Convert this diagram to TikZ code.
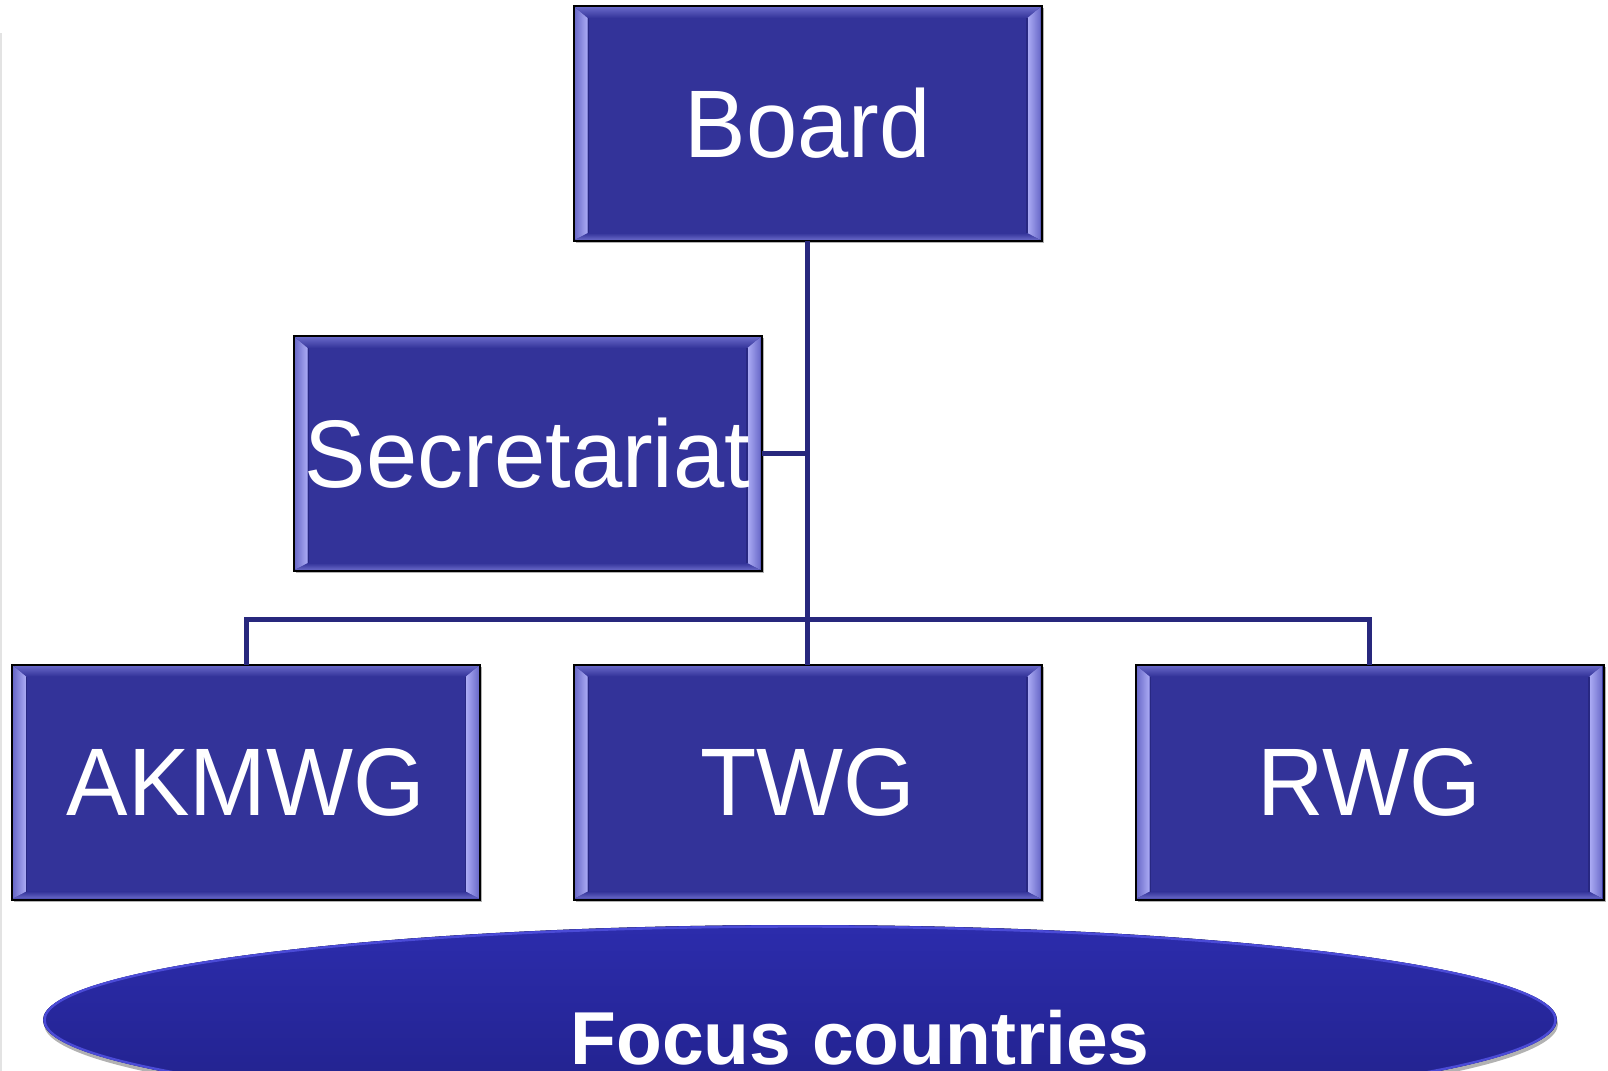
\documentclass[tikz,border=0pt]{standalone}
\usepackage{fontspec}
\setmainfont{Liberation Sans}
\newfontfamily\boxfont[FakeStretch=0.96]{Liberation Sans}
\usetikzlibrary{calc,shapes.geometric}
\definecolor{boxfill}{RGB}{51,51,153}
\definecolor{bevlight}{RGB}{172,172,245}
\definecolor{bevmid}{RGB}{105,105,200}
\definecolor{bevdark}{RGB}{40,40,130}
\definecolor{linecol}{RGB}{40,40,125}
\definecolor{ellTop}{RGB}{44,44,172}
\definecolor{ellBot}{RGB}{33,33,138}
\definecolor{ellRim}{RGB}{75,75,215}
\tikzset{
  orgbox/.style={draw=black, line width=1pt, fill=boxfill,
    minimum width=234pt, minimum height=117.5pt, inner sep=0pt, outer sep=0pt,
    text=white, font=\boxfont\fontsize{48}{56}\selectfont,
    preaction={fill=black, opacity=0.3, transform canvas={shift={(1.2pt,-1.2pt)}}},
    path picture={
      \coordinate (bSW) at (path picture bounding box.south west);
      \coordinate (bNE) at (path picture bounding box.north east);
      \coordinate (bNW) at (path picture bounding box.north west);
      \coordinate (bSE) at (path picture bounding box.south east);
      \fill[top color=bevmid, bottom color=boxfill]
        ($(bNW)+(0.5pt,-0.5pt)$) -- ($(bNE)+(-0.5pt,-0.5pt)$) -- ($(bNE)+(-7pt,-6pt)$) -- ($(bNW)+(7pt,-6pt)$) -- cycle;
      \fill[top color=boxfill, bottom color=bevmid]
        ($(bSW)+(0.5pt,0.5pt)$) -- ($(bSE)+(-0.5pt,0.5pt)$) -- ($(bSE)+(-7pt,4pt)$) -- ($(bSW)+(7pt,4pt)$) -- cycle;
      \fill[left color=bevmid, right color=bevlight]
        ($(bNW)+(0.5pt,-0.5pt)$) -- ($(bNW)+(7pt,-6pt)$) -- ($(bSW)+(7pt,4pt)$) -- ($(bSW)+(0.5pt,0.5pt)$) -- cycle;
      \fill[left color=bevlight, right color=bevmid]
        ($(bNE)+(-0.5pt,-0.5pt)$) -- ($(bNE)+(-7pt,-6pt)$) -- ($(bSE)+(-7pt,4pt)$) -- ($(bSE)+(-0.5pt,0.5pt)$) -- cycle;
      \draw[bevdark, line width=0.6pt] ($(bNW)+(7.3pt,-6pt)$) -- ($(bSW)+(7.3pt,4pt)$);
      \draw[bevdark, line width=0.6pt] ($(bNE)+(-7.3pt,-6pt)$) -- ($(bSE)+(-7.3pt,4pt)$);
    }},
  link/.style={draw=linecol, line width=2.5pt}
}
\begin{document}
\begin{tikzpicture}[x=0.5pt,y=-0.5pt]
\useasboundingbox (0,0) rectangle (1608,1071);
\fill[white] (0,0) rectangle (1608,1071);
\draw[gray!22, line width=1.2pt] (1,33) -- (1,1071);
% ellipse
\begin{scope}
\clip (0,0) rectangle (1608,1071);
\fill[black, opacity=0.3] (801,1024) ellipse [x radius=757, y radius=95];
\fill[top color=ellTop, bottom color=ellBot] (800,1020) ellipse [x radius=757, y radius=95];
\draw[ellRim, line width=1.2pt] (800,1020) ellipse [x radius=755.5, y radius=93.5];
\end{scope}
\node[anchor=base, text=white, font=\bfseries\fontsize{37.5}{44}\selectfont] (focustext) at (860,1064) {Focus countries};
% boxes
\node[orgbox] (board) at (807.5,123.5) {Board};
\node[orgbox] (secr) at (527.5,453.5) {Secretariat};
\node[orgbox] (akm) at (246,782) {AKMWG};
\node[orgbox] (twg) at (807.5,782) {TWG};
\node[orgbox] (rwg) at (1369.5,782) {RWG};
% connectors
\coordinate (bus) at (807.5,619);
\draw[link] (board.south) -- (twg.north);
\draw[link] (secr.east) -- (secr.east -| board.south);
\draw[link] (akm.north) |- (bus) -| (rwg.north);
\end{tikzpicture}
\end{document}
